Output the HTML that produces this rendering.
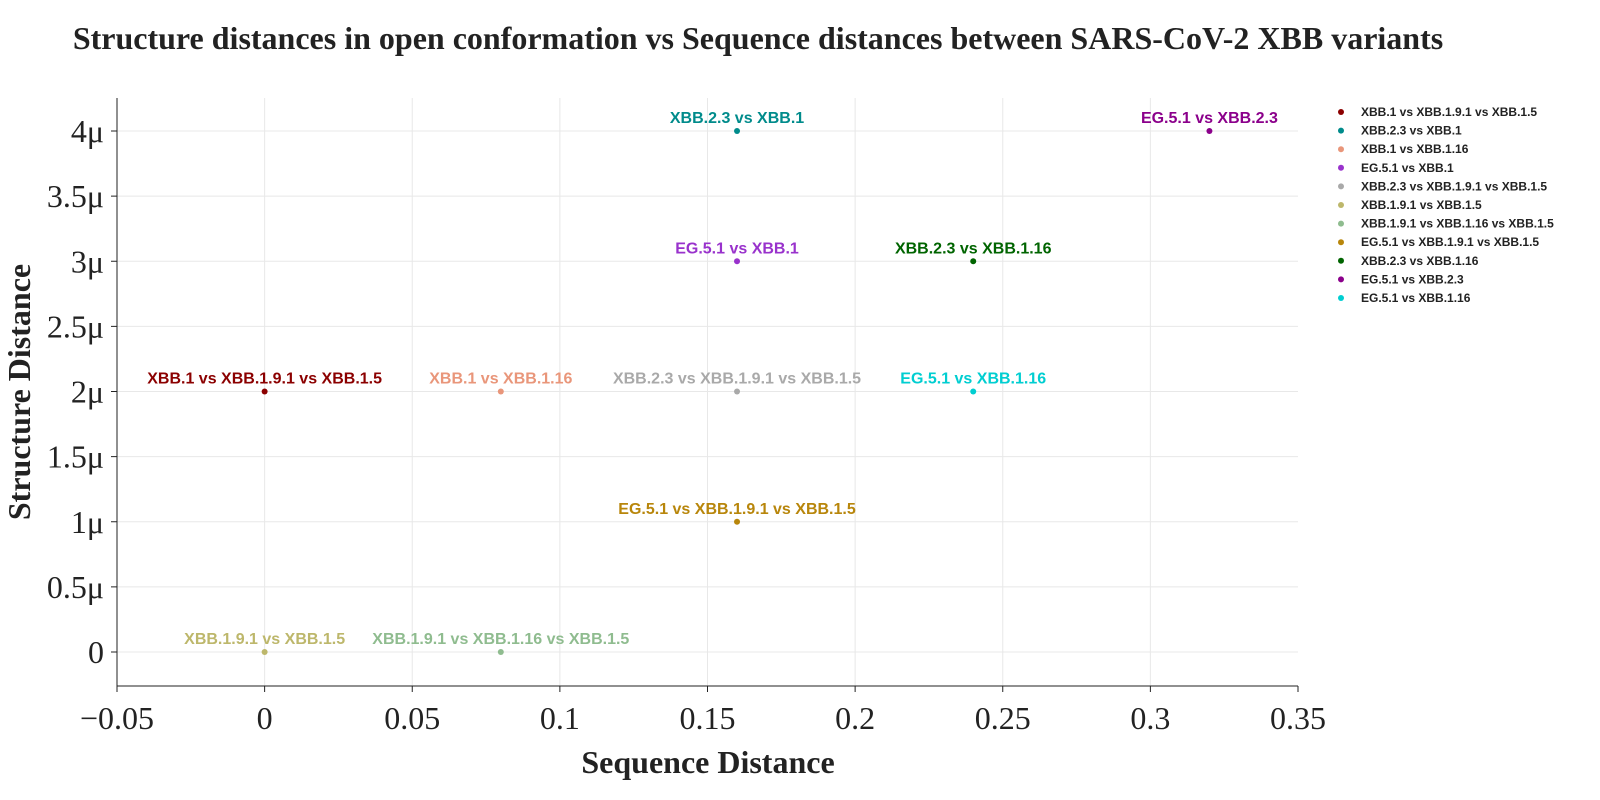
<!DOCTYPE html>
<html><head><meta charset="utf-8"><style>
html,body{margin:0;padding:0;background:#fff;overflow:hidden;width:1600px;height:800px;}
svg{display:block;}
.tk{font-family:"Liberation Serif",serif;font-size:32px;fill:#222;}
.pl{font-family:"Liberation Sans",sans-serif;font-size:16px;font-weight:bold;}
.lg{font-family:"Liberation Sans",sans-serif;font-size:12px;font-weight:bold;fill:#222;}
</style></head><body>
<svg id="chart" width="1600" height="800" xmlns="http://www.w3.org/2000/svg">
<text x="758" y="49" text-anchor="middle" font-family="Liberation Serif,serif" font-size="32" font-weight="bold" fill="#222">Structure distances in open conformation vs Sequence distances between SARS-CoV-2 XBB variants</text>
<g id="grid"></g><g id="axes"></g><g id="pts"></g><g id="legend"></g>
<text x="708" y="773" text-anchor="middle" font-family="Liberation Serif,serif" font-size="32" font-weight="bold" fill="#222">Sequence Distance</text>
<text transform="translate(30,392) rotate(-90)" text-anchor="middle" font-family="Liberation Serif,serif" font-size="32" font-weight="bold" fill="#222">Structure Distance</text>
</svg>
<script>
const labels=["XBB.1 vs XBB.1.9.1 vs XBB.1.5","XBB.2.3 vs XBB.1","XBB.1 vs XBB.1.16","EG.5.1 vs XBB.1","XBB.2.3 vs XBB.1.9.1 vs XBB.1.5","XBB.1.9.1 vs XBB.1.5","XBB.1.9.1 vs XBB.1.16 vs XBB.1.5","EG.5.1 vs XBB.1.9.1 vs XBB.1.5","XBB.2.3 vs XBB.1.16","EG.5.1 vs XBB.2.3","EG.5.1 vs XBB.1.16"];
const seqDist=[0,0.16,0.08,0.16,0.16,0,0.08,0.16,0.24,0.32,0.24];
const structDist=[2,4,2,3,2,0,0,1,3,4,2];
const colors=["#8b0000","#008b8b","#e9967a","#9932cc","#a9a9a9","#bdb76b","#8fbc8f","#b8860b","#006400","#8b008b","#00ced1"];
const xTicks=[-0.05,0,0.05,0.1,0.15,0.2,0.25,0.3,0.35];
const xTickLabels=["\u22120.05","0","0.05","0.1","0.15","0.2","0.25","0.3","0.35"];
const yTicks=[0,0.5,1,1.5,2,2.5,3,3.5,4];
const yTickLabels=["0","0.5\u03bc","1\u03bc","1.5\u03bc","2\u03bc","2.5\u03bc","3\u03bc","3.5\u03bc","4\u03bc"];
const NS="http://www.w3.org/2000/svg";
const X0=117,X1=1298,Y0=686,YT=98;
const xs=v=>X0+(v+0.05)/0.4*(X1-X0);
const ys=v=>652-v*130.25;
function mk(p,t,a,txt){const e=document.createElementNS(NS,t);for(const k in a)e.setAttribute(k,a[k]);if(txt!==undefined)e.textContent=txt;p.appendChild(e);return e;}
const g=document.getElementById('grid'),ax=document.getElementById('axes'),pts=document.getElementById('pts'),lg=document.getElementById('legend');
xTicks.forEach((v,i)=>{const x=xs(v);
 if(i>0&&i<xTicks.length-1){const l=mk(g,'line',{x1:x,x2:x,y1:YT,y2:Y0,stroke:'#e8e8e8','stroke-width':1});}
 const t=mk(ax,'line',{x1:x,x2:x,y1:Y0,y2:Y0+6,stroke:'#222'});
 const tx=mk(ax,'text',{x:x,y:729,'text-anchor':'middle',class:'tk'},xTickLabels[i]);});
yTicks.forEach((v,i)=>{const y=ys(v);
 const l=mk(g,'line',{x1:X0,x2:X1,y1:y,y2:y,stroke:'#e8e8e8','stroke-width':1});
 const t=mk(ax,'line',{x1:X0-6,x2:X0,y1:y,y2:y,stroke:'#222'});
 const tx=mk(ax,'text',{x:104,y:y+11,'text-anchor':'end',class:'tk'},yTickLabels[i]);});
const a1=mk(ax,'line',{x1:X0,x2:X0,y1:YT,y2:Y0,stroke:'#222'});
const a2=mk(ax,'line',{x1:X0,x2:X1,y1:Y0,y2:Y0,stroke:'#222'});
labels.forEach((lab,i)=>{const x=xs(seqDist[i]),y=ys(structDist[i]);
 const c=mk(pts,'circle',{cx:x,cy:y,r:3,fill:colors[i]});
 const t=mk(pts,'text',{x:x,y:y-8,'text-anchor':'middle',class:'pl',fill:colors[i]},lab);
 const ly=112+i*18.6;
 const d=mk(lg,'circle',{cx:1341,cy:ly,r:3,fill:colors[i]});
 const lt=mk(lg,'text',{x:1361,y:ly+4,class:'lg'},lab);});
</script>
</body></html>
